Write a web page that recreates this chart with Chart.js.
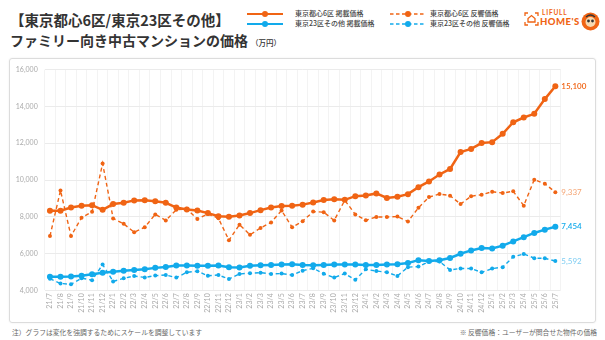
<!DOCTYPE html>
<html lang="ja">
<head>
<meta charset="utf-8">
<script src="https://cdn.jsdelivr.net/npm/chart.js@4.4.1/dist/chart.umd.min.js"></script>
<style>
  html,body{margin:0;padding:0;background:#fff;}
  body{width:605px;height:340px;position:relative;overflow:hidden;font-family:"Noto Sans CJK JP","Noto Sans",sans-serif;color:#333;}
  .title1{position:absolute;left:10px;top:9px;font-size:14.5px;font-weight:700;white-space:nowrap;}
  .title2{position:absolute;left:10px;top:30px;font-size:14px;font-weight:700;white-space:nowrap;}
  .title2 small{font-size:7.5px;font-weight:500;margin-left:3px;}
  .card{position:absolute;left:9px;top:58px;width:585px;height:263px;border:1px solid #dcdcdc;border-radius:3px;box-shadow:0 0 2px rgba(0,0,0,0.08);}
  canvas{position:absolute;left:0;top:0;}
  .leg{position:absolute;font-size:7px;font-weight:500;color:#444;white-space:nowrap;line-height:9px;}
  .foot{position:absolute;top:327px;font-size:6.8px;color:#666;white-space:nowrap;}
  .kome{font-family:"Noto Sans CJK JP";font-variant-emoji:text;color:#666;}
  .logo1{position:absolute;left:542px;top:9px;font-size:6.5px;font-weight:700;color:#F06414;letter-spacing:0.8px;font-family:Lato,sans-serif;}
  .logo2{position:absolute;left:540px;top:16px;font-size:9.5px;font-weight:900;color:#F06414;letter-spacing:0.5px;font-family:Lato,sans-serif;}
</style>
</head>
<body>
<div class="card"></div>
<div class="title1">【東京都心6区/東京23区その他】</div>
<div class="title2">ファミリー向き中古マンションの価格<small>（万円）</small></div>

<svg style="position:absolute;left:245px;top:8px;" width="40" height="20" viewBox="0 0 40 20">
  <line x1="2" y1="6" x2="38" y2="6" stroke="#F06414" stroke-width="2"/>
  <circle cx="20" cy="6" r="3" fill="#F06414"/>
  <line x1="2" y1="16" x2="38" y2="16" stroke="#12AAEB" stroke-width="2"/>
  <circle cx="20" cy="16" r="3" fill="#12AAEB"/>
</svg>
<div class="leg" style="left:295px;top:9px;">東京都心6区 掲載価格</div>
<div class="leg" style="left:295px;top:19px;">東京23区その他 掲載価格</div>

<svg style="position:absolute;left:388px;top:8px;" width="40" height="20" viewBox="0 0 40 20">
  <line x1="2" y1="6" x2="38" y2="6" stroke="#F06414" stroke-width="1.6" stroke-dasharray="3.5,2.5"/>
  <circle cx="20" cy="6" r="3" fill="#F06414"/>
  <line x1="2" y1="16" x2="38" y2="16" stroke="#12AAEB" stroke-width="1.6" stroke-dasharray="3.5,2.5"/>
  <circle cx="20" cy="16" r="3" fill="#12AAEB"/>
</svg>
<div class="leg" style="left:430px;top:9px;">東京都心6区 反響価格</div>
<div class="leg" style="left:430px;top:19px;">東京23区その他 反響価格</div>

<svg style="position:absolute;left:524px;top:12px;" width="15" height="14" viewBox="0 0 15 14">
  <path d="M1 4 V1 H4 M11 1 H14 V4 M14 10 V13 H11 M4 13 H1 V10" fill="none" stroke="#F06414" stroke-width="1.3"/>
  <path d="M4 10 V6.5 L7.5 3.5 L11 6.5 V10 Z" fill="none" stroke="#F06414" stroke-width="1.3"/>
</svg>
<div class="logo1">LIFULL</div>
<div class="logo2">HOME'S</div>
<svg style="position:absolute;left:581px;top:12px;" width="19" height="19" viewBox="0 0 19 19">
  <circle cx="9.5" cy="9.5" r="9" fill="#F06414"/>
  <circle cx="9.5" cy="10" r="5" fill="#F7D9B0"/>
  <circle cx="7.5" cy="9" r="1.4" fill="#333"/>
  <circle cx="11.5" cy="9" r="1.4" fill="#333"/>
  <path d="M5 5 Q9.5 1 14 5" fill="none" stroke="#333" stroke-width="1.2"/>
</svg>

<div class="foot" style="left:12px;">注）グラフは変化を強調するためにスケールを調整しています</div>
<div class="foot" style="right:8px;"><span class="kome">&#x203B;&#xFE0E;</span> 反響価格：ユーザーが問合せた物件の価格</div>

<canvas id="c" width="605" height="340"></canvas>
<script>
const labels = ["21/7","21/8","21/9","21/10","21/11","21/12","22/1","22/2","22/3","22/4","22/5","22/6",
  "22/7","22/8","22/9","22/10","22/11","22/12","23/1","23/2","23/3","23/4","23/5","23/6",
  "23/7","23/8","23/9","23/10","23/11","23/12","24/1","24/2","24/3","24/4","24/5","24/6",
  "24/7","24/8","24/9","24/10","24/11","24/12","25/1","25/2","25/3","25/4","25/5","25/6","25/7"];

const toshinListed = [8330,8330,8500,8600,8630,8380,8690,8760,8890,8900,8850,8760,
  8500,8400,8340,8200,8030,8000,8070,8200,8360,8500,8580,8600,
  8660,8780,8910,8950,8920,9120,9160,9270,9020,9090,9230,9610,
  9920,10300,10600,11520,11690,12010,12060,12510,13140,13400,13600,14400,15100];

const toshinInquiry = [6950,9430,6950,7950,8270,10900,7910,7620,7160,7430,8130,7800,
  8380,8430,7880,8150,7920,6720,7570,7020,7390,7690,8340,7430,
  7760,8280,8250,7800,8900,8130,7810,7990,7990,8010,7740,8490,
  9070,9240,9150,8690,9120,9200,9360,9290,9390,8600,10020,9800,9337];

const otherListed = [4740,4740,4750,4790,4870,4960,5010,5060,5100,5140,5220,5270,
  5350,5350,5340,5340,5350,5250,5240,5330,5360,5380,5400,5420,
  5380,5360,5380,5400,5400,5400,5380,5380,5400,5420,5490,5640,
  5600,5640,5760,5990,6170,6300,6270,6430,6660,6890,7120,7300,7454];

const otherInquiry = [4630,4370,4330,4660,4550,5400,4480,4650,4780,4700,4800,4830,
  4690,4980,5040,4790,4830,4610,4890,4930,4960,4890,4910,4830,
  5070,5200,4900,4690,4910,4570,5140,5050,4980,4780,5260,5290,
  5570,5570,5110,5190,5180,4980,5180,5260,5820,5980,5750,5740,5592];

const yTicks = [4000,6000,8000,10000,12000,14000,16000];

const ORANGE = "#F06414", BLUE = "#12AAEB";

const endLabels = {
  id: "endLabels",
  afterDatasetsDraw(chart) {
    const ctx = chart.ctx;
    chart.data.datasets.forEach((ds, i) => {
      const meta = chart.getDatasetMeta(i);
      const pt = meta.data[meta.data.length - 1];
      const v = ds.data[ds.data.length - 1];
      ctx.save();
      ctx.font = (ds.endBold ? "600 " : "400 ") + "8px Lato, sans-serif";
      ctx.fillStyle = ds.endColor;
      ctx.textAlign = "left";
      ctx.textBaseline = "middle";
      ctx.fillText(v.toLocaleString("en-US"), pt.x + 6, pt.y);
      ctx.restore();
    });
  }
};

new Chart(document.getElementById("c"), {
  type: "line",
  data: {
    labels: labels,
    datasets: [
      {label:"東京都心6区 掲載価格", data: toshinListed, borderColor: ORANGE, backgroundColor: ORANGE,
       borderWidth: 2.5, pointRadius: 3, pointBorderWidth: 0, order: 0, endColor: ORANGE, endBold: true},
      {label:"東京23区その他 掲載価格", data: otherListed, borderColor: BLUE, backgroundColor: BLUE,
       borderWidth: 2.5, pointRadius: 3, pointBorderWidth: 0, order: 0, endColor: BLUE, endBold: true},
      {label:"東京都心6区 反響価格", data: toshinInquiry, borderColor: ORANGE, backgroundColor: ORANGE,
       borderWidth: 1.4, borderDash: [4,3], pointRadius: 2, pointBorderWidth: 0, order: 1, endColor: "#F5A574", endBold: false},
      {label:"東京23区その他 反響価格", data: otherInquiry, borderColor: BLUE, backgroundColor: BLUE,
       borderWidth: 1.4, borderDash: [4,3], pointRadius: 2, pointBorderWidth: 0, order: 1, endColor: "#7FCDF2", endBold: false}
    ]
  },
  options: {
    responsive: false,
    animation: false,
    layout: { padding: { top: 69.7, right: 44.4, bottom: 0, left: 0 } },
    plugins: { legend: { display: false }, tooltip: { enabled: false } },
    scales: {
      x: {
        offset: true,
        grid: { offset: true, color: "#f3f3f3", drawTicks: false },
        border: { display: false },
        ticks: { minRotation: 90, maxRotation: 90, autoSkip: false, padding: 3,
                 color: "#aaa", font: { size: 7, family: "Lato, sans-serif" } },
        afterFit: s => { s.height = 49.7; }
      },
      y: {
        min: 4000, max: 16000,
        afterBuildTicks: s => { s.ticks = yTicks.map(v => ({ value: v })); },
        grid: { color: "#ebebeb", drawTicks: false },
        border: { display: false },
        ticks: { padding: 7, color: "#aaa", font: { size: 7, family: "Lato, sans-serif" },
                 callback: v => v.toLocaleString("en-US") },
        afterFit: s => { s.width = 44.7; }
      }
    }
  },
  plugins: [endLabels]
});
</script>
</body>
</html>
